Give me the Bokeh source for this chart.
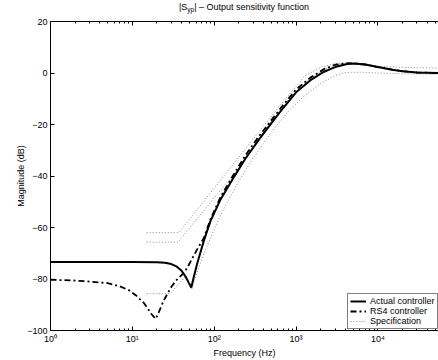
from bokeh.plotting import figure
from bokeh.models import Range1d, FixedTicker, LogAxis, Legend, LegendItem, Div
from bokeh.layouts import column
from bokeh.embed import file_html
from bokeh.resources import INLINE

FONT = "Liberation Sans"

# ---- data ----
actual_freq = [1, 3, 10, 20, 25, 30, 35, 40, 45, 49, 52.5, 56, 62, 75, 90, 120, 170, 240,
               350, 500, 700, 1000, 1500, 2200, 3000, 4200, 5200, 7000, 10000, 15000,
               20000, 30000, 55000]
actual_db = [-73.4, -73.4, -73.4, -73.5, -73.7, -74.2, -75.2, -76.8, -79.2, -81.5, -83.3,
             -79.5, -74.0, -65.0, -57.5, -49.0, -41.0, -33.3, -26.0, -19.5, -13.5, -7.5,
             -2.8, 0.5, 2.3, 3.5, 3.7, 3.3, 2.3, 1.3, 0.7, 0.2, 0.0]

rs4_freq = [1, 2, 3, 5, 7, 9, 11, 14, 17, 19.2, 21, 24, 30, 36, 40, 45, 50, 55, 62, 75,
            90, 120, 170, 240, 350, 500, 700, 1000, 1500, 2200, 3000, 4200, 5200, 7000,
            10000, 15000, 20000, 30000, 55000]
rs4_db = [-80.3, -80.6, -81.0, -81.6, -82.8, -84.3, -86.3, -89.5, -93.5, -95.5, -93.0,
          -88.5, -83.0, -79.8, -78.5, -76.5, -74.0, -71.5, -68.5, -64.0, -56.8, -48.0,
          -39.8, -32.0, -24.7, -18.3, -12.3, -6.4, -1.8, 1.5, 3.2, 3.8, 3.7, 3.3, 2.3,
          1.3, 0.7, 0.2, 0.0]

spec_upper_freq = [15, 37, 100, 300, 700, 1300, 2000, 3000, 4000, 6000, 10000, 20000, 55000]
spec_upper_db = [-62.0, -62.0, -44.7, -25.6, -11.0, -1.0, 2.2, 3.7, 4.0, 3.2, 2.6, 2.2, 1.9]

spec_mid_freq = [15, 36, 100, 200, 400, 800, 1500, 2500, 3800]
spec_mid_db = [-65.7, -65.7, -48.5, -37.0, -23.0, -10.5, -2.0, 2.3, 3.8]

spec_lower_freq = [15, 29, 44, 53, 58, 75, 120, 200, 300, 500, 800, 1200, 2000, 3000,
                   4000, 6000, 10000, 20000, 55000]
spec_lower_db = [-85.7, -85.7, -79.2, -84.0, -80.0, -70.0, -55.0, -42.0, -33.0, -23.0,
                 -15.0, -9.5, -4.0, -1.0, 0.2, 0.3, 0.0, -0.3, -0.5]

x_ticks = [1, 10, 100, 1000, 10000]
x_tick_labels = ["10\u2070", "10\u00b9", "10\u00b2", "10\u00b3", "10\u2074"]
x_minor_ticks = [m * t for t in x_ticks for m in range(2, 10)]
y_ticks = [-100, -80, -60, -40, -20, 0, 20]

title_html = "|S<sub style='font-size:6.5px;vertical-align:-2px'>yp</sub>| \u2013 Output sensitivity function"
x_label = "Frequency (Hz)"
y_label = "Magnitude (dB)"
legend_labels = ["Actual controller", "RS4 controller", "Specification"]

# ---- title as real text above the plot ----
title = Div(text=title_html, width=388, height=14, margin=(0, 0, 0, 50),
            styles={"font-family": FONT, "font-size": "9px", "text-align": "center",
                    "line-height": "14px", "color": "black", "white-space": "nowrap"})

# ---- figure ----
p = figure(width=438, height=346, x_axis_type="log",
           x_range=Range1d(1, 5.5e4), y_range=Range1d(-100, 20),
           output_backend="svg", toolbar_location=None, margin=(0, 0, 0, 0),
           min_border_left=50, min_border_right=0, min_border_top=7, min_border_bottom=30)
p.title.visible = False
p.outline_line_color = None
p.xgrid.visible = False
p.ygrid.visible = False
p.background_fill_color = "white"
p.border_fill_color = "white"

spec_style = dict(line_color="#8a8a8a", line_width=1, line_dash="1 2")
r_spec1 = p.line(spec_upper_freq, spec_upper_db, **spec_style)
p.line(spec_mid_freq, spec_mid_db, **spec_style)
p.line(spec_lower_freq, spec_lower_db, **spec_style)
r_rs4 = p.line(rs4_freq, rs4_db, line_color="black", line_width=1.8, line_dash="6 3 2 3")
r_act = p.line(actual_freq, actual_db, line_color="black", line_width=2)

def style_axis(ax, minor=True):
    ax.axis_line_color = "black"
    ax.axis_line_width = 1
    ax.major_tick_line_color = "black"
    ax.major_tick_in = 4
    ax.major_tick_out = 0
    if minor:
        ax.minor_tick_line_color = "black"
        ax.minor_tick_in = 2
        ax.minor_tick_out = 0
    else:
        ax.minor_tick_line_color = None
    ax.major_label_text_font = FONT
    ax.major_label_text_font_size = "9px"
    ax.major_label_text_color = "black"
    ax.axis_label_text_font = FONT
    ax.axis_label_text_font_size = "9px"
    ax.axis_label_text_font_style = "normal"
    ax.axis_label_text_color = "black"

xax = p.xaxis[0]
xax.ticker = FixedTicker(ticks=x_ticks, minor_ticks=x_minor_ticks)
xax.major_label_overrides = dict(zip(x_ticks, x_tick_labels))
xax.axis_label = x_label
style_axis(xax)
xax.major_label_standoff = 3
xax.axis_label_standoff = 1

yax = p.yaxis[0]
yax.ticker = FixedTicker(ticks=y_ticks)
yax.axis_label = y_label
style_axis(yax, minor=False)
yax.major_label_standoff = 3
yax.axis_label_standoff = -2

top = LogAxis(ticker=FixedTicker(ticks=x_ticks, minor_ticks=x_minor_ticks))
style_axis(top)
top.major_label_text_font_size = "1px"
top.major_label_text_color = None
top.major_label_standoff = 0
p.add_layout(top, "above")

# ---- legend ----
legend = Legend(items=[LegendItem(label=legend_labels[0], renderers=[r_act]),
                       LegendItem(label=legend_labels[1], renderers=[r_rs4]),
                       LegendItem(label=legend_labels[2], renderers=[r_spec1])],
                location=(297, 1))
legend.label_text_font = FONT
legend.label_text_font_size = "9px"
legend.label_text_color = "black"
legend.label_height = 10
legend.glyph_height = 10
legend.glyph_width = 16
legend.label_standoff = 4
legend.padding = 2
legend.spacing = 0
legend.margin = 0
legend.border_line_color = "black"
legend.border_line_width = 1
legend.background_fill_color = "white"
legend.background_fill_alpha = 1
p.add_layout(legend, "center")

layout = column(title, p, spacing=0, margin=(0, 0, 0, 0))
open("out.html", "w").write(file_html(layout, INLINE))
